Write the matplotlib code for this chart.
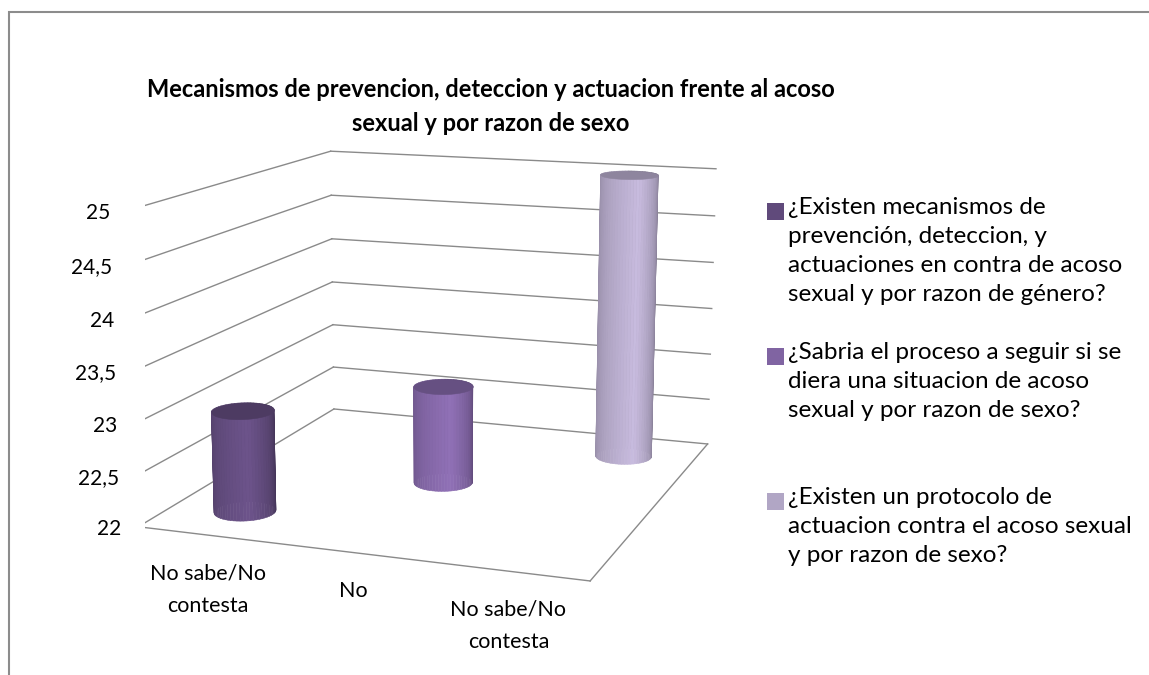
import numpy as np
import matplotlib
matplotlib.use('Agg')
import matplotlib.pyplot as plt
import matplotlib.colors as mcolors
from matplotlib.patches import Rectangle
from mpl_toolkits.mplot3d import proj3d
from mpl_toolkits.mplot3d.art3d import Poly3DCollection

# 데이터
categories = ['No sabe/No\ncontesta', 'No', 'No sabe/No\ncontesta']
series_names = [
    '¿Existen mecanismos de\nprevención, deteccion, y\nactuaciones en contra de acoso\nsexual y por razon de género?',
    '¿Sabria el proceso a seguir si se\ndiera una situacion de acoso\nsexual y por razon de sexo?',
    '¿Existen un protocolo de\nactuacion contra el acoso sexual\ny por razon de sexo?',
]
series_values = [
    [23, np.nan, np.nan],
    [np.nan, 23, np.nan],
    [np.nan, np.nan, 25],
]
series_colors = ['#604A7B', '#8064A2', '#B1A6C5']
z_ticks = [22, 22.5, 23, 23.5, 24, 24.5, 25]
z_tick_labels = ['22', '22,5', '23', '23,5', '24', '24,5', '25']
title = 'Mecanismos de prevencion, deteccion y actuacion frente al acoso\nsexual y por razon de sexo'

FONT = 'Lato'
GRID = '#8a8a8a'
ELEV, AZIM = 12.5, -70
W, H = 1149, 675


def shade(color, f):
    r, g, b = mcolors.to_rgb(color)
    return (min(r * f, 1), min(g * f, 1), min(b * f, 1))


def draw_cylinder(ax, xc, yc, z0, z1, color, radius=0.2, n=60):
    """원기둥 옆면과 윗면을 그린다 (엑셀 느낌의 그라데이션)."""
    th = np.linspace(0, 2 * np.pi, n + 1)
    side, fcs = [], []
    for a, b in zip(th[:-1], th[1:]):
        xa, ya = xc + radius * np.cos(a), yc + radius * np.sin(a)
        xb, yb = xc + radius * np.cos(b), yc + radius * np.sin(b)
        side.append([(xa, ya, z0), (xb, yb, z0), (xb, yb, z1), (xa, ya, z1)])
        # 화면 기준 각도: -90 왼쪽 끝, +90 오른쪽 끝
        psi = (np.degrees((a + b) / 2) - AZIM + 180) % 360 - 180
        f = np.interp(psi, [-90, -40, 15, 60, 90], [0.86, 1.0, 1.13, 0.92, 0.72])
        fcs.append(shade(color, f))
    pc = Poly3DCollection(side, facecolors=fcs, edgecolors=fcs, linewidths=0.4)
    pc.set_zorder(3)
    ax.add_collection3d(pc)
    top = [[(xc + radius * np.cos(a), yc + radius * np.sin(a), z1) for a in th]]
    tcol = shade(color, 0.8)
    tc = Poly3DCollection(top, facecolors=[tcol], edgecolors=[tcol], linewidths=0.4)
    tc.set_zorder(4)
    ax.add_collection3d(tc)


def fig_point(fig, ax, x, y, z, dx=0, dy=0):
    """3D 좌표를 그림 좌표(0~1)로 바꾸고 픽셀 단위로 밀어준다."""
    xs, ys, _ = proj3d.proj_transform(x, y, z, ax.M)
    px, py = ax.transData.transform((xs, ys))
    return fig.transFigure.inverted().transform((px + dx, py + dy))


fig = plt.figure(figsize=(W / 100, H / 100), dpi=100)
fig.add_artist(Rectangle((9 / W, -0.1), 1.2, 1 - 12 / H + 0.1, transform=fig.transFigure,
                         facecolor='none', edgecolor='#8c8c8c', linewidth=1.5))

ax = fig.add_axes([0.019, 0.058, 0.72, 0.86], projection='3d', computed_zorder=False)
ax.set_proj_type('persp', focal_length=0.62)
ax.view_init(elev=ELEV, azim=AZIM)
x0, x1 = -0.5, len(categories) - 0.5
y0, y1 = -0.5, len(series_values) - 0.5
z0, z1 = z_ticks[0], z_ticks[-1]
ax.set_xlim(x0, x1)
ax.set_ylim(y0, y1)
ax.set_zlim(z0, z1)
ax.set_box_aspect((0.895, 0.95, 0.61), zoom=1.19)
ax.set_axis_off()

# 벽면 격자선
for z in z_ticks:
    ax.plot([x0, x0], [y0, y1], [z, z], color=GRID, lw=1.0, zorder=1)
    ax.plot([x0, x1], [y1, y1], [z, z], color=GRID, lw=1.0, zorder=1)
ax.plot([x0, x0], [y0, y0], [z0, z1], color=GRID, lw=1.0, zorder=1)
ax.plot([x0, x1], [y0, y0], [z0, z0], color=GRID, lw=1.0, zorder=1)
ax.plot([x1, x1], [y0, y1], [z0, z0], color=GRID, lw=1.0, zorder=1)

# 원기둥 (뒤에서 앞으로)
for s in reversed(range(len(series_values))):
    for c, v in enumerate(series_values[s]):
        if np.isnan(v):
            continue
        draw_cylinder(ax, c, s, z0, v, series_colors[s])

# 투영 행렬을 만들기 위해 한 번 그린다
fig.canvas.draw()

# 눈금 라벨
for z, lab in zip(z_ticks, z_tick_labels):
    fx, fy = fig_point(fig, ax, x0, y0, z, dx=-17, dy=-2)
    fig.text(fx, fy, lab, ha='right', va='center', fontsize=15, family=FONT)
for c, lab in enumerate(categories):
    fx, fy = fig_point(fig, ax, c, y0, z0, dx=-1, dy=-28)
    fig.text(fx, fy, lab, ha='center', va='top', fontsize=15.5, family=FONT,
             linespacing=1.8)

# 제목
fig.text(0.427, 0.842, title, ha='center', va='center', fontsize=17, fontweight='bold',
         family=FONT, linespacing=1.55)

# 범례
leg_y = [211, 356, 501]
for s, name in enumerate(series_names):
    yy = 1 - leg_y[s] / H
    fig.add_artist(Rectangle((767 / W, yy - 9 / H), 17 / W, 17 / H,
                             transform=fig.transFigure, facecolor=series_colors[s],
                             edgecolor='none'))
    fig.text(788 / W, yy + 14 / H, name, ha='left', va='top', fontsize=17.5, family=FONT,
             linespacing=1.47)

fig.savefig('out.png', dpi=100)
plt.close(fig)
